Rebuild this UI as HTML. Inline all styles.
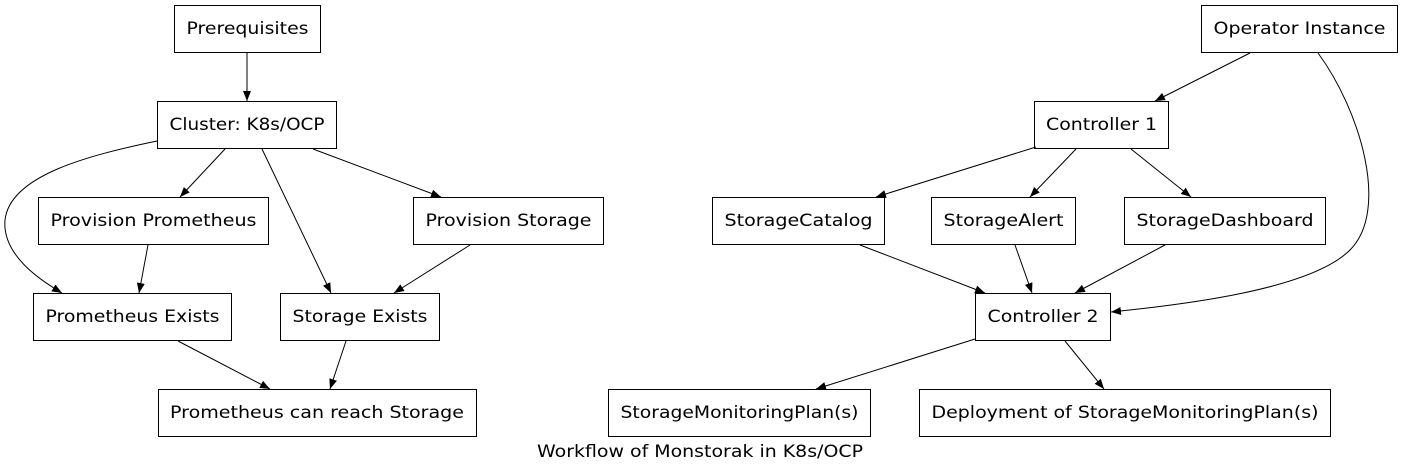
<!DOCTYPE html>
<html><head><meta charset="utf-8"><style>
html,body{margin:0;padding:0;background:#fff;}
svg{display:block;}
text{font-family:"DejaVu Sans","Liberation Sans",sans-serif;font-size:16.5px;fill:#000;}
</style></head><body>
<svg width="1402" height="473" viewBox="0 0 1402 473" xmlns="http://www.w3.org/2000/svg">
<defs>
<marker id="a" markerUnits="userSpaceOnUse" markerWidth="12" markerHeight="10" refX="10" refY="4" orient="auto">
<path d="M0,0 L10,4 L0,8 Z" fill="#000"/>
</marker>
</defs>
<rect width="1402" height="473" fill="#fff"/>
<g fill="none" stroke="#000" stroke-width="1">
<rect x="174.5" y="5.5" width="146" height="47"/>
<rect x="157.5" y="101.5" width="179" height="47"/>
<rect x="38.5" y="197.5" width="230" height="47"/>
<rect x="413.5" y="197.5" width="190" height="47"/>
<rect x="33.5" y="293.5" width="198" height="47"/>
<rect x="280.5" y="293.5" width="159" height="47"/>
<rect x="158.5" y="389.5" width="318" height="47"/>
<rect x="1201.5" y="5.5" width="196" height="47"/>
<rect x="1034.5" y="101.5" width="134" height="47"/>
<rect x="712.5" y="197.5" width="172" height="47"/>
<rect x="931.5" y="197.5" width="144" height="47"/>
<rect x="1124.5" y="197.5" width="201" height="47"/>
<rect x="975.5" y="293.5" width="135" height="47"/>
<rect x="608.5" y="389.5" width="262" height="47"/>
<rect x="919.5" y="389.5" width="411" height="47"/>
</g>
<g fill="none" stroke="#000" stroke-width="1" marker-end="url(#a)">
<path d="M247,53 L247,101"/>
<path d="M225,149 L180,197"/>
<path d="M313,149 L441,197"/>
<path d="M262,149 L331,293"/>
<path d="M157,141 C90,155 10,175 5,220 C2,255 40,280 62,293"/>
<path d="M148,245 L139,293"/>
<path d="M470,245 L394,293"/>
<path d="M178,341 L270,389"/>
<path d="M346,341 L330,389"/>
<path d="M1250,53 L1155,101"/>
<path d="M1318,53 C1360,110 1390,210 1350,250 C1310,290 1180,305 1111,312"/>
<path d="M1036,147 L876,197"/>
<path d="M1076,149 L1030,197"/>
<path d="M1131,149 L1191,197"/>
<path d="M860,245 L985,293"/>
<path d="M1015,245 L1032,293"/>
<path d="M1165,245 L1075,293"/>
<path d="M975,339 L816,389"/>
<path d="M1065,341 L1104,389"/>
</g>
<g text-anchor="middle">
<text x="247.5" y="34" textLength="122" lengthAdjust="spacingAndGlyphs">Prerequisites</text>
<text x="247" y="130" textLength="155" lengthAdjust="spacingAndGlyphs">Cluster: K8s/OCP</text>
<text x="153.5" y="226" textLength="206" lengthAdjust="spacingAndGlyphs">Provision Prometheus</text>
<text x="508.5" y="226" textLength="166" lengthAdjust="spacingAndGlyphs">Provision Storage</text>
<text x="132.5" y="322" textLength="174" lengthAdjust="spacingAndGlyphs">Prometheus Exists</text>
<text x="360" y="322" textLength="135" lengthAdjust="spacingAndGlyphs">Storage Exists</text>
<text x="317" y="418" textLength="294" lengthAdjust="spacingAndGlyphs">Prometheus can reach Storage</text>
<text x="1299.5" y="34" textLength="172" lengthAdjust="spacingAndGlyphs">Operator Instance</text>
<text x="1101.5" y="130" textLength="111" lengthAdjust="spacingAndGlyphs">Controller 1</text>
<text x="798.5" y="226" textLength="148" lengthAdjust="spacingAndGlyphs">StorageCatalog</text>
<text x="1003.5" y="226" textLength="120" lengthAdjust="spacingAndGlyphs">StorageAlert</text>
<text x="1225" y="226" textLength="177" lengthAdjust="spacingAndGlyphs">StorageDashboard</text>
<text x="1043" y="322" textLength="111" lengthAdjust="spacingAndGlyphs">Controller 2</text>
<text x="739.5" y="418" textLength="238" lengthAdjust="spacingAndGlyphs">StorageMonitoringPlan(s)</text>
<text x="1125" y="418" textLength="387" lengthAdjust="spacingAndGlyphs">Deployment of StorageMonitoringPlan(s)</text>
<text x="700" y="457" textLength="326" lengthAdjust="spacingAndGlyphs">Workflow of Monstorak in K8s/OCP</text>
</g>
</svg>
</body></html>
